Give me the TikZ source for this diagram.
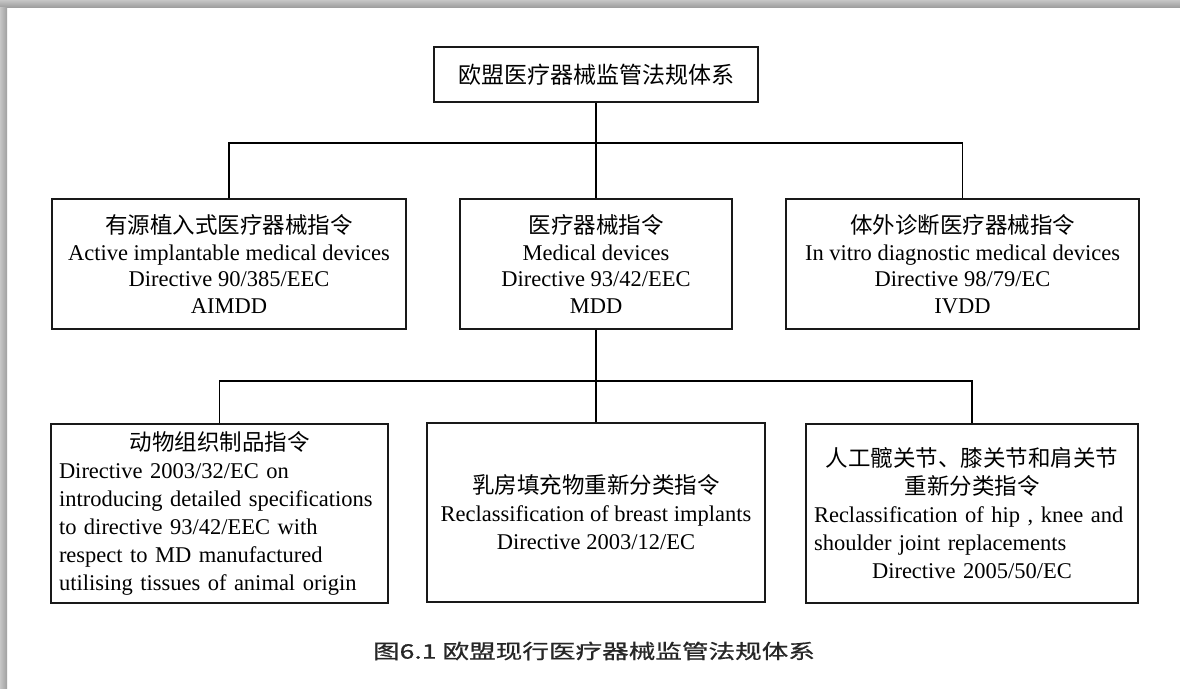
\documentclass[tikz,border=0pt]{standalone}
\usepackage{fontspec}
\usepackage{graphicx}
\setmainfont{Liberation Serif}
\newfontfamily\cjk{Noto Sans CJK SC}
\newfontfamily\capfont{Noto Sans CJK SC}[FakeBold=0.6]
\begin{document}
\begin{tikzpicture}[x=1pt,y=-1pt,
  box/.style={draw=black!90, line width=1.3pt, inner sep=0pt, fill=white,
    font=\fontsize{22.5}{26.5}\selectfont},
  rowthree/.style={font=\fontsize{22.5}{28}\selectfont},
  conn/.style={line width=1.3pt, draw=black}]
\useasboundingbox (0,0) rectangle (1180,688);
\fill[white] (0,0) rectangle (1180,688);
\shade[top color=gray!45,bottom color=gray!75] (0,0) rectangle (1180,7);
\shade[left color=gray!45,right color=gray!75] (0,7) rectangle (7,688);

\node[box, minimum width=324pt, minimum height=55pt, font=\cjk\fontsize{23}{27}\selectfont] (top) at (596,74.5) {欧盟医疗器械监管法规体系};

\node[box, minimum width=354pt, minimum height=130pt, align=center] (l2) at (229,264)
  {{\cjk 有源植入式医疗器械指令}\\Active implantable medical devices\\Directive 90/385/EEC\\AIMDD};
\node[box, minimum width=272pt, minimum height=130pt, align=center] (m2) at (596,264)
  {{\cjk 医疗器械指令}\\Medical devices\\Directive 93/42/EEC\\MDD};
\node[box, minimum width=353pt, minimum height=130pt, align=center] (r2) at (962.5,264)
  {{\cjk 体外诊断医疗器械指令}\\In vitro diagnostic medical devices\\Directive 98/79/EC\\IVDD};

\node[box, rowthree, minimum width=337pt, minimum height=179pt, text width=321pt, align=left] (l3) at (219.5,513.5)
  {\makebox[321pt][c]{\cjk 动物组织制品指令}\\Directive 2003/32/EC on\\introducing detailed specifications\\to directive 93/42/EEC with\\respect to MD manufactured\\utilising tissues of animal origin};
\node[box, rowthree, minimum width=338pt, minimum height=179pt, align=center] (m3) at (596,512.5)
  {{\cjk 乳房填充物重新分类指令}\\Reclassification of breast implants\\Directive 2003/12/EC};
\node[box, rowthree, minimum width=332pt, minimum height=179pt, text width=316pt, align=left] (r3) at (972,513.5)
  {\makebox[316pt][c]{\cjk 人工髋关节、膝关节和肩关节}\\\makebox[316pt][c]{\cjk 重新分类指令}\\Reclassification of hip , knee and\\shoulder joint replacements\\\hspace*{58pt}Directive 2005/50/EC};

\coordinate (bus1) at (596,143);
\coordinate (bus2) at (596,381);
\draw[conn] (top.south) -- (bus1) -- (m2.north);
\draw[conn] (l2.north) |- (bus1) -| (r2.north);
\draw[conn] (m2.south) -- (bus2) -- (m3.north);
\draw[conn] (l3.north) |- (bus2) -| (r3.north);

\node[font=\capfont\fontsize{20}{24}\selectfont, text=black!85] (cap) at (594,651)
  {\scalebox{1.33}[1]{图6.1 欧盟现行医疗器械监管法规体系}};
\end{tikzpicture}
\end{document}
